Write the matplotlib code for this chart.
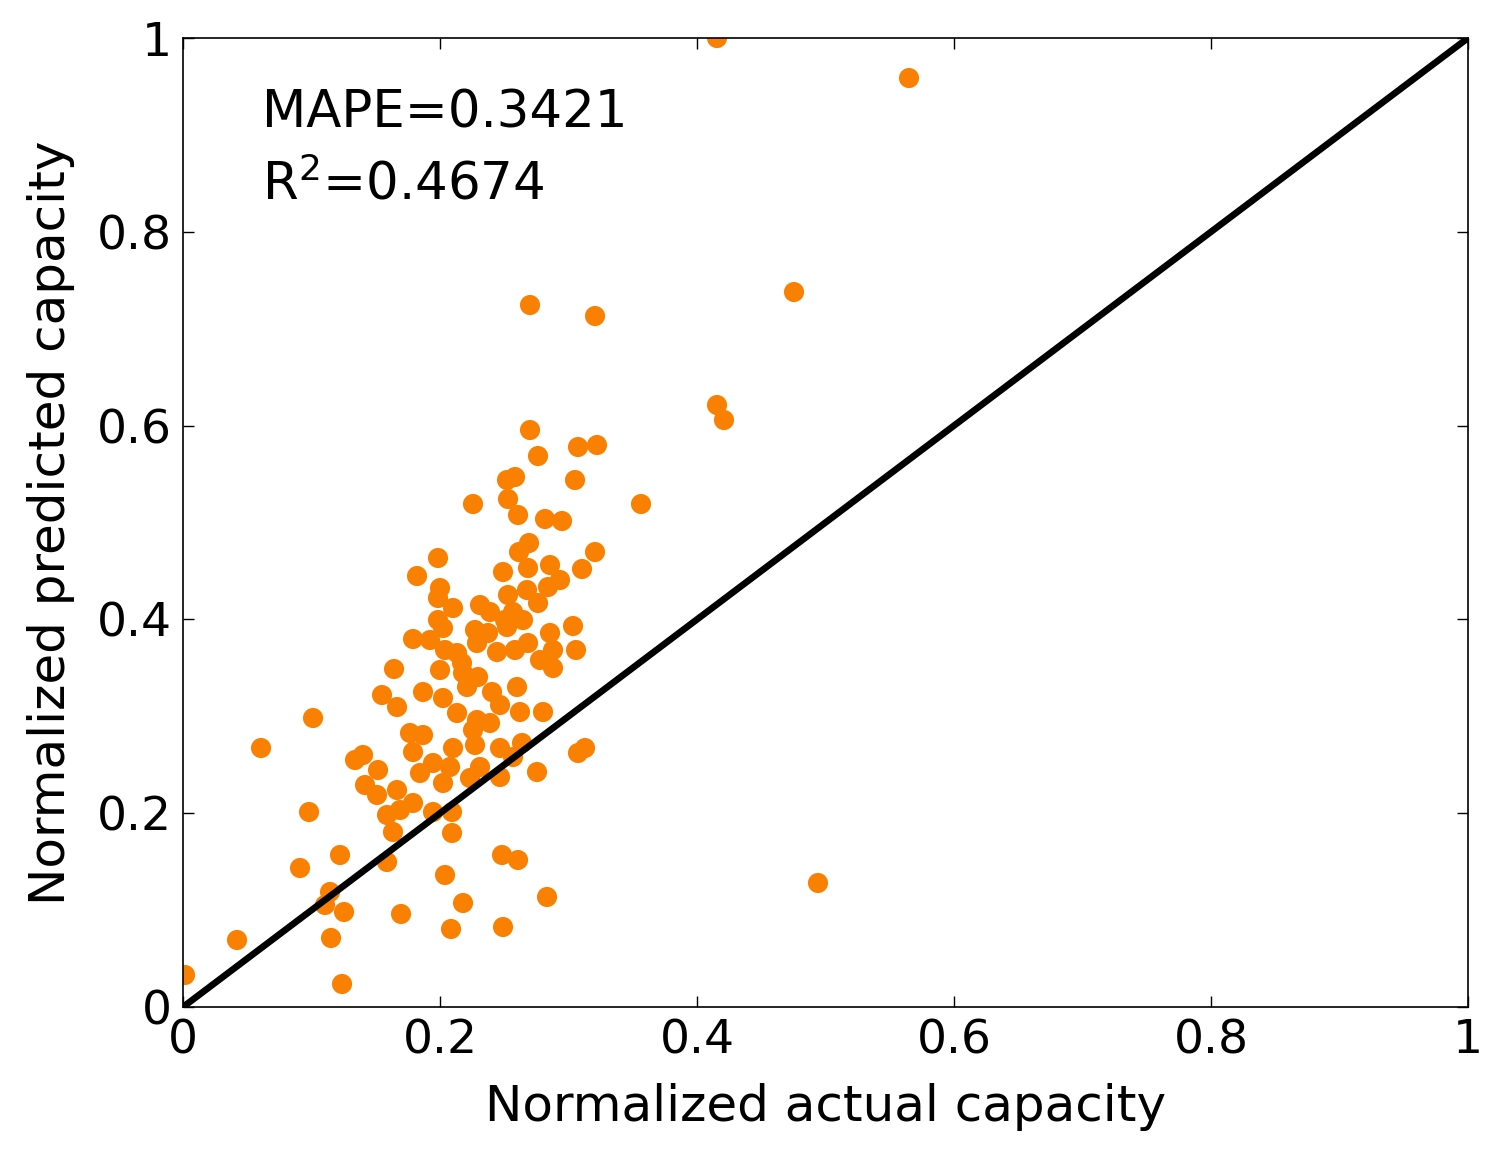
import matplotlib
matplotlib.use("Agg")
import matplotlib.pyplot as plt
import numpy as np

# pixel-read points converted to data units
px = [717, 909, 794, 530, 595, 717, 724, 530, 578, 597, 538, 575, 515, 507, 641, 473, 508, 518, 545, 562,
      529, 519, 595, 438, 550, 503, 582, 528, 417, 440, 548, 438, 453, 508, 527, 538, 480, 490, 438, 443,
      513, 523, 573, 550, 475, 488, 507, 413, 477, 497, 515, 528, 553, 576, 445, 457, 440, 462,
      394, 463, 478, 553, 382, 397, 423, 443, 457, 467, 492, 517, 520, 543, 500, 313, 410, 423, 473, 490,
      453, 413, 475, 500, 522, 513, 585, 578, 261, 355, 363, 378, 365, 377, 397, 420, 433, 450, 443, 470,
      480, 500, 537, 413, 387, 400, 433, 452, 393, 452, 309, 340, 300, 387, 502, 518, 445, 330, 325, 344,
      401, 463, 547, 237, 331, 451, 503, 185, 342, 818, 477, 430, 540, 560, 505]
py = [38, 78, 292, 305, 316, 405, 420, 430, 447, 445, 456, 480, 477, 480, 504, 504, 499, 515, 519, 521,
      543, 552, 552, 558, 565, 572, 569, 568, 576, 588, 587, 598, 608, 595, 590, 603, 605, 612, 620, 628,
      612, 620, 626, 633, 630, 633, 627, 639, 643, 652, 650, 643, 650, 650, 650, 653, 670, 663,
      669, 673, 677, 668, 695, 707, 692, 698, 713, 687, 692, 687, 712, 712, 705, 718, 733, 735, 730, 723,
      748, 752, 745, 748, 743, 757, 748, 753, 748, 760, 755, 770, 785, 795, 790, 773, 763, 767, 783, 778,
      767, 777, 772, 803, 815, 810, 812, 812, 832, 833, 812, 855, 868, 862, 855, 860, 875, 892, 905, 912,
      914, 903, 897, 940, 938, 929, 927, 975, 984, 883, 720, 640, 660, 580, 620]

actual = [(p - 183) / 1285 for p in px]
predicted = [(1007 - p) / 969 for p in py]

ticks = [0, 0.2, 0.4, 0.6, 0.8, 1]
tick_labels = ["0", "0.2", "0.4", "0.6", "0.8", "1"]

plt.rcParams['font.family'] = ['DejaVu Sans']
plt.rcParams['mathtext.fontset'] = 'dejavusans'

fig = plt.figure(figsize=(14.99, 11.6), dpi=100)
ax = fig.add_axes([0.1221, 0.1319, 0.8572, 0.8353])

ax.scatter(actual, predicted, s=210, color='#F98000', edgecolors='none', zorder=2)
ax.plot([0, 1], [0, 1], color='black', linewidth=4.8, zorder=3)

ax.set_xlim(0, 1)
ax.set_ylim(0, 1)
ax.set_xticks(ticks)
ax.set_xticklabels(tick_labels)
ax.set_yticks(ticks)
ax.set_yticklabels(tick_labels)
ax.tick_params(direction='in', length=8, width=1, top=True, right=True, labelsize=34, pad=8)
for s in ax.spines.values():
    s.set_linewidth(1.2)

ax.set_xlabel("Normalized actual capacity", fontsize=36, labelpad=14)
ax.set_ylabel("Normalized predicted capacity", fontsize=36, labelpad=16)

ax.text(0.0615, 0.922, "MAPE=0.3421", fontsize=37, va='center', ha='left')
ax.text(0.0615, 0.848, r"R$^2$=0.4674", fontsize=37, va='center', ha='left')

fig.savefig("out.png", dpi=100)
